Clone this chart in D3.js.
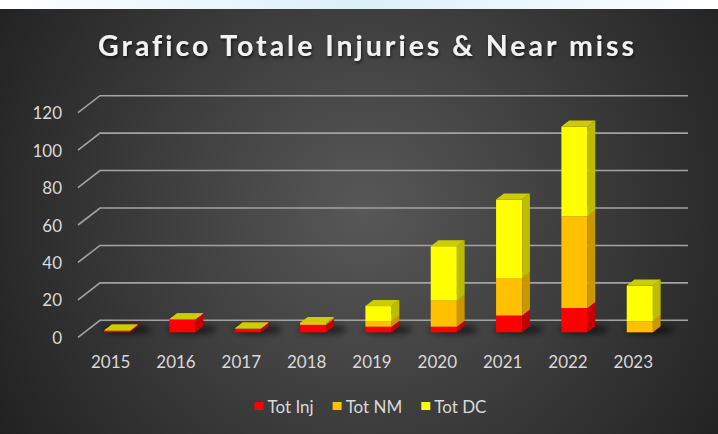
<!DOCTYPE html>
<html>
<head>
<meta charset="utf-8">
<script src="https://cdn.jsdelivr.net/npm/d3@7/dist/d3.min.js"></script>
<style>
  html, body { margin: 0; padding: 0; background: #ffffff; }
  svg { display: block; }
  text { font-variant-ligatures: none; }
</style>
</head>
<body>
<svg id="chart" width="718" height="434"></svg>
<script>
// ---- data ----
const years = ["2015", "2016", "2017", "2018", "2019", "2020", "2021", "2022", "2023"];
const totInj = [1, 7, 2, 4, 3, 3, 9, 13, 0];
const totNM  = [0, 0, 0, 1, 3, 14, 20, 49, 6];
const totDC  = [0, 0, 0, 0, 8, 29, 42, 48, 19];
const seriesNames = ["Tot Inj", "Tot NM", "Tot DC"];
const yTicks = [0, 20, 40, 60, 80, 100, 120];

// face colours per series: front, side, top
const faceColors = [
  { front: "#ff0000", side: "#c40000", top: "#d40000" },
  { front: "#ffc000", side: "#c99700", top: "#d6a300" },
  { front: "#ffff00", side: "#bdbd00", top: "#cccc00" }
];

const W = 718, H = 434;
const FONT = "Lato, 'Open Sans', sans-serif";
const svg = d3.select("#chart");
const defs = svg.append("defs");

// ---- background ----
const topStrip = defs.append("linearGradient").attr("id", "strip");
topStrip.append("stop").attr("offset", "0%").attr("stop-color", "#ffffff");
topStrip.append("stop").attr("offset", "50%").attr("stop-color", "#dcf0fa");
topStrip.append("stop").attr("offset", "100%").attr("stop-color", "#ffffff");
svg.append("rect").attr("width", W).attr("height", 9).attr("fill", "url(#strip)");

const bg = defs.append("radialGradient").attr("id", "bg")
  .attr("gradientUnits", "userSpaceOnUse")
  .attr("cx", 365).attr("cy", 210).attr("r", 430);
bg.append("stop").attr("offset", "0%").attr("stop-color", "#585858");
bg.append("stop").attr("offset", "100%").attr("stop-color", "#212121");
svg.append("rect").attr("y", 9).attr("width", W).attr("height", H - 9).attr("fill", "url(#bg)");

const blur = defs.append("filter").attr("id", "soft")
  .attr("x", "-50%").attr("y", "-200%").attr("width", "200%").attr("height", "500%");
blur.append("feGaussianBlur").attr("stdDeviation", 3);

const shadow = defs.append("filter").attr("id", "titleShadow")
  .attr("x", "-10%").attr("y", "-30%").attr("width", "120%").attr("height", "160%");
shadow.append("feDropShadow").attr("dx", 1).attr("dy", 2).attr("stdDeviation", 1.5)
  .attr("flood-color", "#000").attr("flood-opacity", 0.6);

// ---- scales and oblique projection ----
const x = d3.scaleBand().domain(years).range([100, 688]).paddingInner(0.6).paddingOuter(0.3);
const y = d3.scaleLinear().domain([0, 120]).range([320.3, 95.7]);
const depth = { dx: -22, dy: 17 };         // back wall -> front edge of floor
const dFront = 0.706, dBack = 0.353;        // bar depth within the floor
const P = (xb, v, d) => [xb + depth.dx * d, y(v) + depth.dy * d];
const poly = pts => "M" + pts.map(p => p.join(",")).join("L") + "Z";

// ---- gridlines (back wall + left wall leg) ----
const grid = svg.append("g").attr("fill", "none").attr("stroke", "#a3a3a3").attr("stroke-width", 1.6);
yTicks.forEach(t => {
  const a = P(100, t, 1), b = P(100, t, 0), c = P(688, t, 0);
  grid.append("path").attr("d", `M${a}L${b}L${c}`);
});

// ---- y tick labels ----
svg.append("g").selectAll("text").data(yTicks).join("text")
  .attr("x", 62).attr("y", d => y(d) + depth.dy)
  .attr("text-anchor", "end").attr("dominant-baseline", "central")
  .attr("font-family", FONT).attr("font-size", 17)
  .attr("fill", "#d9d9d9").text(d => d);

// ---- x labels ----
svg.append("g").selectAll("text").data(years).join("text")
  .attr("x", d => x(d) + x.bandwidth() / 2 + depth.dx)
  .attr("y", 361)
  .attr("text-anchor", "middle").attr("dominant-baseline", "central")
  .attr("font-family", FONT).attr("font-size", 17)
  .attr("fill", "#d9d9d9").text(d => d);

// ---- stacked 3D columns ----
const table = years.map((yr, i) => ({ year: yr, inj: totInj[i], nm: totNM[i], dc: totDC[i] }));
const stack = d3.stack().keys(["inj", "nm", "dc"])(table);

// floor shadows under each column
svg.append("g").attr("filter", "url(#soft)").selectAll("ellipse").data(years).join("ellipse")
  .attr("cx", d => x(d) + x.bandwidth() / 2 + depth.dx * 0.55 + 6)
  .attr("cy", y(0) + depth.dy * 0.55)
  .attr("rx", x.bandwidth() * 0.95).attr("ry", 5)
  .attr("fill", "#000").attr("opacity", 0.55);

const bars = svg.append("g");
years.forEach((yr, i) => {
  const x0 = x(yr), x1 = x0 + x.bandwidth();
  stack.forEach((layer, s) => {
    const v0 = layer[i][0], v1 = layer[i][1];
    const c = faceColors[s];
    const g = bars.append("g");
    if (v1 > v0) {
      g.append("path").attr("fill", c.front)
        .attr("d", poly([P(x0, v0, dFront), P(x1, v0, dFront), P(x1, v1, dFront), P(x0, v1, dFront)]));
      g.append("path").attr("fill", c.side)
        .attr("d", poly([P(x1, v0, dFront), P(x1, v0, dBack), P(x1, v1, dBack), P(x1, v1, dFront)]));
    }
    g.append("path").attr("fill", c.top)
      .attr("d", poly([P(x0, v1, dFront), P(x1, v1, dFront), P(x1, v1, dBack), P(x0, v1, dBack)]));
  });
});

// ---- title ----
svg.append("text")
  .attr("x", 366).attr("y", 56).attr("text-anchor", "middle")
  .attr("font-family", FONT).attr("font-weight", 700)
  .attr("font-size", 28.5).attr("fill", "#f2f2f2")
  .attr("textLength", 536).attr("lengthAdjust", "spacing")
  .attr("filter", "url(#titleShadow)")
  .text("Grafico Totale Injuries & Near miss");

// ---- legend ----
const legend = svg.append("g");
const items = seriesNames.map((name, s) => {
  const g = legend.append("g");
  g.append("rect").attr("width", 9).attr("height", 8).attr("y", -4).attr("fill", faceColors[s].front);
  const t = g.append("text").attr("x", 13).attr("dominant-baseline", "central")
    .attr("font-family", FONT).attr("font-size", 17)
    .attr("fill", "#d9d9d9").text(name);
  return { g, w: 13 + t.node().getComputedTextLength() };
});
const gap = 19;
const total = d3.sum(items, d => d.w) + gap * (items.length - 1);
let cx = 370.5 - total / 2;
items.forEach(it => { it.g.attr("transform", `translate(${cx},406)`); cx += it.w + gap; });
</script>
</body>
</html>
